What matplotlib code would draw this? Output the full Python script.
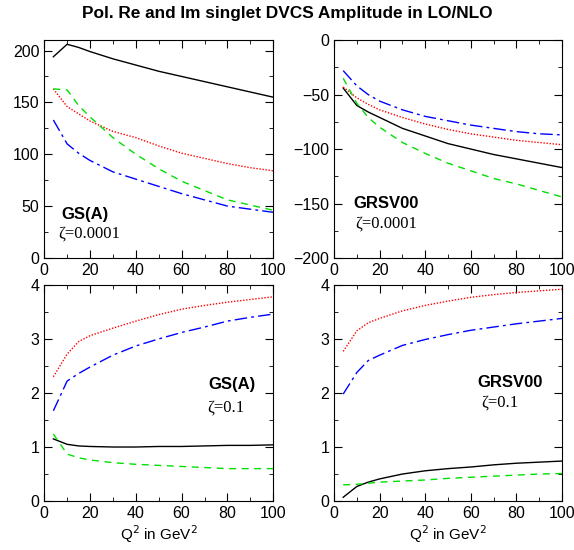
import matplotlib
matplotlib.use("Agg")
import matplotlib.pyplot as plt
from matplotlib.ticker import MultipleLocator

plt.rcParams['font.family'] = ['Liberation Sans', 'DejaVu Sans']

# Q^2 grid (GeV^2)
q2 = [4, 10, 15, 20, 30, 40, 50, 60, 70, 80, 90, 100]

# top-left: GS(A), zeta = 0.0001
gs_lo_black = [194, 206, 203, 199, 192, 186, 180, 175, 170, 165, 160, 155]
gs_lo_red = [163, 146, 139, 132, 122, 116, 108, 101, 96, 91, 87, 84]
gs_lo_green = [163, 162, 147, 136, 116, 100, 86, 74, 65, 56, 51, 46]
gs_lo_blue = [133, 110, 101, 94, 83, 76, 69, 62, 56, 50, 47, 44]

# top-right: GRSV00, zeta = 0.0001
gr_lo_black = [-44, -60, -66, -71, -81, -88, -95, -100, -105, -109, -113, -117]
gr_lo_red = [-43, -53, -59, -64, -71, -77, -82, -86, -89, -92, -94, -96]
gr_lo_green = [-35, -58, -71, -80, -94, -104, -113, -120, -127, -132, -138, -144]
gr_lo_blue = [-28, -42, -50, -56, -64, -70, -74, -78, -81, -84, -86, -87]

# bottom-left: GS(A), zeta = 0.1
gs_hi_black = [1.15, 1.05, 1.02, 1.01, 1.0, 1.0, 1.01, 1.01, 1.02, 1.03, 1.03, 1.04]
gs_hi_red = [2.3, 2.72, 2.95, 3.06, 3.2, 3.33, 3.45, 3.55, 3.62, 3.68, 3.73, 3.78]
gs_hi_green = [1.24, 0.87, 0.8, 0.76, 0.71, 0.68, 0.66, 0.64, 0.62, 0.6, 0.6, 0.6]
gs_hi_blue = [1.67, 2.22, 2.36, 2.48, 2.7, 2.87, 3.0, 3.12, 3.22, 3.33, 3.4, 3.46]

# bottom-right: GRSV00, zeta = 0.1
gr_hi_black = [0.07, 0.27, 0.35, 0.41, 0.5, 0.56, 0.6, 0.63, 0.67, 0.7, 0.72, 0.74]
gr_hi_red = [2.77, 3.15, 3.3, 3.38, 3.52, 3.62, 3.7, 3.77, 3.82, 3.86, 3.89, 3.92]
gr_hi_green = [0.3, 0.31, 0.33, 0.35, 0.37, 0.39, 0.42, 0.44, 0.46, 0.48, 0.5, 0.51]
gr_hi_blue = [1.98, 2.38, 2.6, 2.7, 2.88, 2.99, 3.08, 3.16, 3.22, 3.28, 3.33, 3.38]

fig = plt.figure(figsize=(5.74, 5.50), dpi=100)
fig.text(0.5, 0.975, "Pol. Re and Im singlet DVCS Amplitude in LO/NLO",
         ha="center", va="center", fontsize=12.4, fontweight="bold")

pos = [[0.077, 0.531, 0.399, 0.396], [0.582, 0.531, 0.397, 0.396],
       [0.077, 0.089, 0.399, 0.393], [0.582, 0.089, 0.397, 0.393]]
panels = [
    (gs_lo_black, gs_lo_red, gs_lo_green, gs_lo_blue, (0, 210), 50, 25, "GS(A)", "ζ=0.0001", (7.5, 42), (6, 23.5)),
    (gr_lo_black, gr_lo_red, gr_lo_green, gr_lo_blue, (-200, 0), 50, 25, "GRSV00", "ζ=0.0001", (8.5, -150), (9.5, -168)),
    (gs_hi_black, gs_hi_red, gs_hi_green, gs_hi_blue, (0, 4), 1, 0.5, "GS(A)", "ζ=0.1", (71.5, 2.15), (71, 1.74)),
    (gr_hi_black, gr_hi_red, gr_hi_green, gr_hi_blue, (0, 4), 1, 0.5, "GRSV00", "ζ=0.1", (63, 2.2), (64.5, 1.83)),
]

for i, (bk, rd, gn, bl, ylim, ymaj, ymin, name, zeta, p1, p2) in enumerate(panels):
    ax = fig.add_axes(pos[i])
    ax.plot(q2, bk, color="black", lw=1.0)
    ax.plot(q2, rd, color="red", lw=1.0, ls=(0, (1, 1.2)))
    ax.plot(q2, gn, color="#00e000", lw=1.0, ls=(0, (5, 4)))
    ax.plot(q2, bl, color="blue", lw=1.0, ls=(0, (9, 3, 2, 3)))
    ax.set_xlim(0, 100)
    ax.set_ylim(*ylim)
    ax.xaxis.set_major_locator(MultipleLocator(20))
    ax.xaxis.set_minor_locator(MultipleLocator(10))
    ax.yaxis.set_major_locator(MultipleLocator(ymaj))
    ax.yaxis.set_minor_locator(MultipleLocator(ymin))
    ax.tick_params(which="both", direction="in", top=True, right=True, labelsize=11.5)
    ax.tick_params(which="major", length=6)
    ax.tick_params(which="minor", length=3)
    ax.text(p1[0], p1[1], name, fontsize=12, fontweight="bold", va="center")
    ax.text(p2[0], p2[1], zeta, fontsize=12, va="center", family=["Liberation Serif", "DejaVu Serif"])
    if i >= 2:
        ax.set_xlabel("Q$^2$ in GeV$^2$", fontsize=11, labelpad=2)

fig.savefig("out.png", dpi=100)
